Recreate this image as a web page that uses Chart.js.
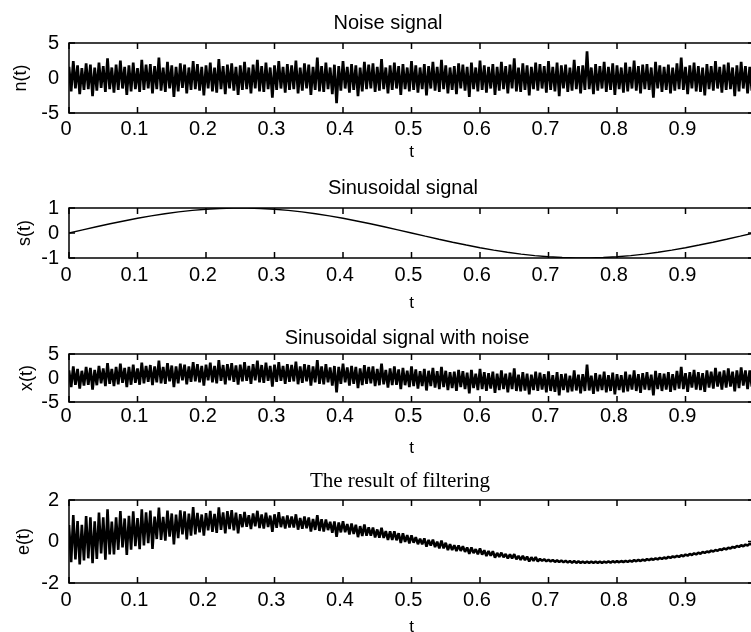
<!DOCTYPE html>
<html>
<head>
<meta charset="utf-8">
<script src="https://cdn.jsdelivr.net/npm/chart.js@4.4.1/dist/chart.umd.min.js"></script>
<style>
html,body{margin:0;padding:0;background:#fff;overflow:hidden;width:751px;height:632px;}
canvas{position:absolute;left:0;}
</style>
</head>
<body>
<canvas id="c1" width="760" height="170"></canvas>
<canvas id="c2" width="760" height="152"></canvas>
<canvas id="c3" width="760" height="152"></canvas>
<canvas id="c4" width="760" height="190"></canvas>
<script>
// ---------------- data ----------------
const xTickLabels = ['0','0.1','0.2','0.3','0.4','0.5','0.6','0.7','0.8','0.9',''];
const nTickLabels = ['-5','0','5'];
const sTickLabels = ['-1','0','1'];
const xSigTickLabels = ['-5','0','5'];
const eTickLabels = ['-2','0','2'];

const noiseDt = 1/320;   // sample spacing of the noisy signals (s)
const sineDt = 0.02;     // sample spacing of the clean sinusoid (s)

// n(t): noise signal
const noiseValues = [
1.6,-1.9,2.4,-1.5,1.8,-2.3,1.4,-1.7,2.1,-1.6,1.9,-2.6,1.5,-1.8,2.2,-1.4,1.7,-2.0,2.8,-1.6,
1.5,-2.1,1.9,-1.7,2.5,-1.5,1.6,-2.4,1.8,-1.9,2.2,-1.6,1.4,-2.0,2.6,-1.7,1.9,-1.5,2.0,-2.2,
1.7,-1.6,2.9,-1.8,1.5,-2.0,2.3,-1.5,1.8,-2.7,1.6,-1.9,2.1,-1.4,1.9,-2.2,1.5,-1.7,2.4,-1.6,
2.0,-1.8,1.6,-2.5,1.8,-1.5,2.2,-1.9,1.5,-2.1,2.7,-1.6,1.7,-2.3,1.9,-1.5,2.1,-1.8,1.6,-2.4,
1.8,-1.7,2.3,-1.6,1.5,-2.2,1.9,-1.5,2.6,-1.9,1.7,-2.0,2.2,-1.6,1.5,-2.8,1.8,-1.7,2.4,-1.5,
1.6,-2.1,2.0,-1.7,1.8,-1.6,2.5,-2.2,1.5,-1.8,2.1,-1.5,1.9,-2.4,1.6,-1.7,2.9,-1.9,1.7,-2.0,
2.2,-1.6,1.5,-2.3,1.9,-3.6,1.7,-1.8,2.4,-1.5,1.6,-2.1,2.0,-1.7,1.8,-2.6,1.5,-1.9,2.3,-1.6,
1.9,-1.5,2.1,-2.0,1.6,-1.8,2.7,-1.6,1.5,-2.2,1.8,-1.7,2.2,-1.5,1.7,-2.4,2.0,-1.6,1.5,-1.9,
2.4,-1.7,1.8,-2.1,1.5,-1.6,2.0,-2.5,1.7,-1.5,2.3,-1.8,1.6,-2.0,2.6,-1.6,1.8,-2.2,1.5,-1.7,
1.7,-2.3,2.1,-1.5,1.9,-1.8,1.6,-2.7,2.2,-1.6,1.5,-1.9,2.5,-1.7,1.8,-2.1,1.6,-1.5,2.0,-2.4,
1.6,-1.8,2.3,-1.6,1.7,-2.2,1.9,-1.5,2.8,-1.9,1.5,-2.0,2.1,-1.7,1.8,-2.5,1.6,-1.6,2.2,-1.8,
2.0,-1.5,1.7,-2.1,2.4,-1.7,1.6,-1.9,2.2,-2.6,1.8,-1.5,1.9,-2.0,1.5,-1.8,2.6,-1.6,1.7,-2.2,
1.8,-1.7,3.8,-1.6,1.5,-2.3,2.0,-1.8,1.7,-1.5,2.3,-2.0,1.6,-1.7,2.1,-2.4,1.8,-1.6,1.5,-2.1,
2.2,-1.9,1.6,-1.5,2.5,-1.8,1.7,-2.2,1.9,-1.6,2.0,-1.7,1.5,-2.8,2.3,-1.5,1.8,-2.0,1.6,-1.7,
1.9,-2.2,1.5,-1.8,2.1,-1.6,2.9,-1.7,1.6,-2.3,1.8,-1.5,2.2,-1.9,1.7,-2.0,1.5,-2.5,2.0,-1.6,
1.7,-1.8,2.4,-1.5,1.6,-2.1,1.9,-1.7,2.2,-1.6,1.5,-2.6,1.8,-1.9,2.3,-1.5,1.7,-2.2,1.6,-1.8
];

// s(t): sinusoidal signal
const sineValues = [
0,0.125,0.249,0.368,0.482,0.588,0.685,0.771,0.844,0.904,0.951,0.982,0.998,0.998,0.982,0.951,0.904,0.844,0.771,0.685,
0.588,0.482,0.368,0.249,0.125,0,-0.125,-0.249,-0.368,-0.482,-0.588,-0.685,-0.771,-0.844,-0.904,-0.951,-0.982,-0.998,-0.998,-0.982,
-0.951,-0.904,-0.844,-0.771,-0.685,-0.588,-0.482,-0.368,-0.249,-0.125,0
];

// x(t): sinusoidal signal with noise
const noisySineValues = [
1.6,-1.9,2.4,-1.4,1.9,-2.2,1.5,-1.6,2.3,-1.4,2.1,-2.4,1.7,-1.5,2.5,-1.1,2.0,-1.7,3.1,-1.2,
1.9,-1.7,2.3,-1.3,3.0,-1.0,2.1,-1.9,2.3,-1.4,2.8,-1.0,2.0,-1.4,3.2,-1.1,2.5,-0.8,2.7,-1.5,
2.4,-0.9,3.6,-1.1,2.3,-1.2,3.1,-0.7,2.6,-1.9,2.4,-1.1,3.0,-0.5,2.8,-1.3,2.4,-0.8,3.3,-0.7,
2.9,-0.9,2.5,-1.6,2.8,-0.5,3.2,-0.9,2.5,-1.1,3.7,-0.6,2.7,-1.3,2.9,-0.5,3.1,-0.8,2.6,-1.4,
2.8,-0.7,3.3,-0.6,2.5,-1.2,2.9,-0.5,3.6,-0.9,2.7,-1.0,3.2,-0.6,2.5,-1.8,2.8,-0.8,3.3,-0.6,
2.5,-1.2,2.9,-0.8,2.7,-0.7,3.4,-1.3,2.4,-1.0,2.9,-0.7,2.7,-1.6,2.4,-0.9,3.7,-1.2,2.4,-1.3,
2.9,-0.9,2.2,-1.6,2.5,-3.0,2.3,-1.2,3.0,-0.9,2.2,-1.6,2.5,-1.2,2.3,-2.1,2.0,-1.5,2.7,-1.2,
2.3,-1.1,2.4,-1.7,1.9,-1.5,3.0,-1.3,1.7,-2.0,2.0,-1.5,2.4,-1.4,1.8,-2.3,2.1,-1.5,1.5,-1.9,
2.4,-1.7,1.8,-2.2,1.4,-1.7,1.9,-2.6,1.5,-1.7,2.1,-2.0,1.4,-2.3,2.3,-1.9,1.5,-2.5,1.2,-2.1,
1.3,-2.7,1.7,-1.9,1.4,-2.3,1.1,-3.2,1.7,-2.1,0.9,-2.5,1.9,-2.3,1.2,-2.7,1.0,-2.2,1.3,-3.1,
0.9,-2.5,1.6,-2.3,0.9,-3.0,1.1,-2.3,2.0,-2.7,0.7,-2.8,1.2,-2.6,0.9,-3.4,0.7,-2.5,1.3,-2.7,
1.1,-2.4,0.8,-3.0,1.4,-2.7,0.6,-2.9,1.2,-3.6,0.8,-2.5,0.9,-3.0,0.5,-2.8,1.6,-2.6,0.7,-3.2,
0.8,-2.7,2.8,-2.6,0.5,-3.3,1.0,-2.8,0.7,-2.5,1.3,-3.0,0.6,-2.7,1.1,-3.4,0.8,-2.5,0.6,-3.0,
1.3,-2.8,0.7,-2.4,1.6,-2.7,0.8,-3.1,1.0,-2.4,1.2,-2.5,0.7,-3.6,1.5,-2.3,1.0,-2.7,0.9,-2.4,
1.2,-2.9,0.8,-2.5,1.5,-2.2,2.3,-2.3,1.0,-2.9,1.2,-2.0,1.7,-2.4,1.2,-2.5,1.0,-2.9,1.6,-2.0,
1.3,-2.2,2.1,-1.8,1.3,-2.4,1.6,-2.0,2.0,-1.8,1.3,-2.8,1.6,-2.1,2.2,-1.6,1.6,-2.3,1.6,-1.8
];

// e(t): result of filtering
const filteredValues = [
0.79,-1.0,1.27,-0.87,0.98,-1.1,0.80,-0.91,1.23,-0.81,1.16,-1.05,0.97,-0.84,1.40,-0.58,1.16,-0.88,1.55,-0.62,
0.96,-0.62,1.17,-0.40,1.47,-0.29,1.11,-0.65,1.24,-0.39,1.45,-0.22,1.13,-0.37,1.55,-0.19,1.41,-0.08,1.49,-0.36,
1.20,0.12,1.63,0.08,1.19,0.04,1.49,0.23,1.35,-0.14,1.30,0.16,1.50,0.34,1.45,0.10,1.34,0.28,1.66,0.34,
1.38,0.44,1.30,0.28,1.37,0.54,1.48,0.46,1.33,0.42,1.64,0.56,1.40,0.39,1.46,0.60,1.51,0.54,1.39,0.39,
1.32,0.69,1.42,0.71,1.27,0.60,1.35,0.73,1.48,0.65,1.30,0.62,1.39,0.70,1.25,0.47,1.31,0.66,1.41,0.69,
1.21,0.62,1.26,0.67,1.21,0.67,1.31,0.57,1.13,0.61,1.21,0.64,1.16,0.48,1.09,0.56,1.27,0.51,1.07,0.48,
1.06,0.55,0.95,0.42,0.97,0.23,0.92,0.44,0.98,0.45,0.84,0.34,0.87,0.36,0.81,0.21,0.74,0.27,0.82,0.28,
0.68,0.28,0.67,0.20,0.58,0.18,0.66,0.17,0.50,0.07,0.49,0.08,0.49,0.06,0.40,-0.07,0.40,-0.02,0.31,-0.09,
0.30,-0.06,0.21,-0.13,0.14,-0.13,0.15,-0.25,0.08,-0.20,0.09,-0.27,-0.01,-0.33,0.04,-0.33,-0.06,-0.41,-0.13,-0.41,
-0.18,-0.46,-0.19,-0.45,-0.23,-0.50,-0.29,-0.60,-0.29,-0.56,-0.37,-0.62,-0.34,-0.63,-0.42,-0.70,-0.46,-0.69,-0.47,-0.78,
-0.55,-0.74,-0.54,-0.76,-0.60,-0.82,-0.62,-0.81,-0.61,-0.86,-0.69,-0.89,-0.69,-0.90,-0.73,-0.96,-0.76,-0.93,-0.75,-0.96,
-0.84,-0.93,-0.86,-0.95,-0.88,-0.96,-0.89,-0.98,-0.91,-0.99,-0.92,-1.00,-0.93,-1.01,-0.94,-1.02,-0.94,-1.03,-0.95,-1.03,
-0.97,-1.03,-0.97,-1.03,-0.97,-1.03,-0.97,-1.03,-0.97,-1.03,-0.97,-1.02,-0.96,-1.02,-0.95,-1.01,-0.95,-1.00,-0.94,-0.99,
-0.93,-0.98,-0.92,-0.97,-0.90,-0.95,-0.89,-0.94,-0.87,-0.92,-0.85,-0.90,-0.83,-0.88,-0.81,-0.86,-0.79,-0.84,-0.77,-0.82,
-0.74,-0.79,-0.72,-0.76,-0.69,-0.74,-0.66,-0.71,-0.63,-0.68,-0.60,-0.65,-0.57,-0.62,-0.54,-0.59,-0.51,-0.55,-0.48,-0.52,
-0.44,-0.48,-0.41,-0.45,-0.37,-0.41,-0.33,-0.38,-0.30,-0.34,-0.26,-0.30,-0.22,-0.26,-0.18,-0.23,-0.15,-0.19,-0.11,-0.15
];

// ---------------- layout / style ----------------
const SANS = '"Liberation Sans", Arial, Helvetica, sans-serif';
const SERIF = '"Liberation Serif", "Times New Roman", Times, serif';
const CANVAS_W = 760;
const AREA_LEFT = 69;
const AREA_RIGHT = 754;
const TICK_FONT = 20, TICK_LH = 1.2;
const T_FONT = 17, T_LH = 1.2;
const Y_FONT = 18, Y_LH = 1.2;

const panels = [
  {id:'c1', top:0,   height:170, areaTop:43,  areaBottom:113, title:'Noise signal', titleFont:'20px '+SANS, titleX:388, titleBase:29,
   yLabel:'n(t)', yTitleX:21, tickCenter:129.5, tCenter:152.5, values:noiseValues, dt:noiseDt, yMin:-5, yMax:5, yStep:5, yTicks:nTickLabels, lw:2.7},
  {id:'c2', top:168, height:152, areaTop:208, areaBottom:258, title:'Sinusoidal signal', titleFont:'20px '+SANS, titleX:403, titleBase:194,
   yLabel:'s(t)', yTitleX:25, tickCenter:275, tCenter:303, values:sineValues, dt:sineDt, yMin:-1, yMax:1, yStep:1, yTicks:sTickLabels, lw:1.4},
  {id:'c3', top:313, height:152, areaTop:354, areaBottom:402, title:'Sinusoidal signal with noise', titleFont:'20px '+SANS, titleX:407, titleBase:344,
   yLabel:'x(t)', yTitleX:27, tickCenter:416, tCenter:448, values:noisySineValues, dt:noiseDt, yMin:-5, yMax:5, yStep:5, yTicks:xSigTickLabels, lw:2.7},
  {id:'c4', top:458, height:190, areaTop:500, areaBottom:583, title:'The result of filtering', titleFont:'21px '+SERIF, titleX:400, titleBase:487,
   yLabel:'e(t)', yTitleX:24, tickCenter:600, tCenter:627, values:filteredValues, dt:noiseDt, yMin:-2, yMax:2, yStep:2, yTicks:eTickLabels, lw:2.6}
];

Chart.defaults.color = '#000';
Chart.defaults.font.family = SANS;

const framePlugin = {
  id: 'frame',
  afterDraw(chart, args, opts) {
    const {ctx, chartArea: a, scales} = chart;
    ctx.save();
    ctx.strokeStyle = '#000';
    ctx.lineWidth = 1.5;
    ctx.strokeRect(a.left, a.top, a.right - a.left, a.bottom - a.top);
    const TL = 6;
    ctx.beginPath();
    scales.x.ticks.forEach(t => {
      const px = scales.x.getPixelForValue(t.value);
      ctx.moveTo(px, a.bottom); ctx.lineTo(px, a.bottom - TL);
      ctx.moveTo(px, a.top); ctx.lineTo(px, a.top + TL);
    });
    scales.y.ticks.forEach(t => {
      const py = scales.y.getPixelForValue(t.value);
      ctx.moveTo(a.left, py); ctx.lineTo(a.left + TL, py);
      ctx.moveTo(a.right, py); ctx.lineTo(a.right - TL, py);
    });
    ctx.stroke();
    ctx.fillStyle = '#000';
    ctx.font = opts.font;
    ctx.textAlign = 'center';
    ctx.textBaseline = 'alphabetic';
    ctx.fillText(opts.text, opts.x, opts.y);
    ctx.restore();
  }
};

panels.forEach(P => {
  const cv = document.getElementById(P.id);
  cv.style.top = P.top + 'px';
  const loc = v => v - P.top;
  const xHeight = P.height - loc(P.areaBottom);
  const tickPad = (P.tickCenter - P.areaBottom) - TICK_FONT * TICK_LH / 2;
  const tPad = (P.height - loc(P.tCenter)) - T_FONT * T_LH / 2;
  const yPad = P.yTitleX - Y_FONT * Y_LH / 2;
  new Chart(cv, {
    type: 'line',
    data: {
      datasets: [{
        data: P.values.map((v, i) => ({x: i * P.dt, y: v})),
        borderColor: '#000',
        borderWidth: P.lw,
        borderJoinStyle: 'bevel',
        pointRadius: 0,
        tension: 0,
        fill: false
      }]
    },
    options: {
      responsive: false,
      animation: false,
      events: [],
      layout: {padding: {top: loc(P.areaTop), left: 0, right: CANVAS_W - AREA_RIGHT, bottom: 0}},
      plugins: {
        legend: {display: false},
        tooltip: {enabled: false},
        frame: {text: P.title, font: P.titleFont, x: P.titleX, y: loc(P.titleBase)}
      },
      scales: {
        x: {
          type: 'linear', min: 0, max: 1,
          grid: {display: false, drawTicks: false},
          border: {display: false},
          ticks: {stepSize: 0.1, autoSkip: false, maxRotation: 0, minRotation: 0, padding: tickPad, labelOffset: -3,
                  font: {size: TICK_FONT, lineHeight: TICK_LH}, color: '#000',
                  callback: (v, i) => xTickLabels[i] ?? ''},
          title: {display: true, text: 't', color: '#000', font: {size: T_FONT, lineHeight: T_LH}, padding: {top: 0, bottom: tPad}},
          afterFit: s => { s.height = xHeight; }
        },
        y: {
          type: 'linear', min: P.yMin, max: P.yMax,
          grid: {display: false, drawTicks: false},
          border: {display: false},
          ticks: {stepSize: P.yStep, autoSkip: false, padding: 10, font: {size: TICK_FONT, lineHeight: TICK_LH}, color: '#000',
                  callback: (v, i) => P.yTicks[i]},
          title: {display: true, text: P.yLabel, color: '#000', font: {size: Y_FONT, lineHeight: Y_LH}, padding: {top: yPad, bottom: 0}},
          afterFit: s => { s.width = AREA_LEFT; }
        }
      }
    },
    plugins: [framePlugin]
  });
});
</script>
</body>
</html>
